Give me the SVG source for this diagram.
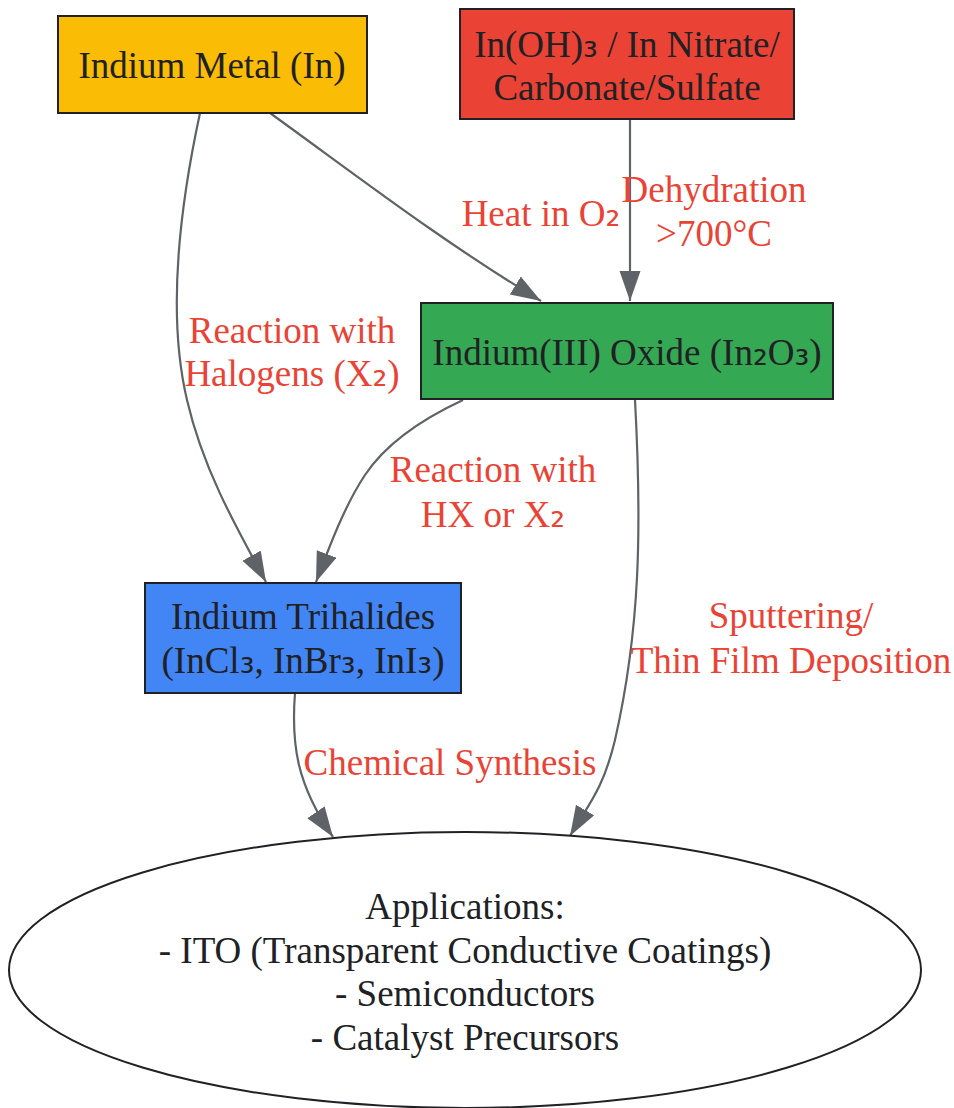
<svg xmlns="http://www.w3.org/2000/svg" width="954" height="1108" viewBox="0 0 954 1108">
<style>
text{font-family:"Liberation Serif","Times New Roman",serif;font-size:37px;text-anchor:middle}
.s{font-family:"DejaVu Sans",sans-serif}
.node rect,.node ellipse{stroke:#202124;stroke-width:2}
.node text{fill:#202124}
.edge path{fill:none;stroke:#5F6368;stroke-width:2.2}
.lbl{fill:#EA4335}
</style>
<defs>
<marker id="arr" markerUnits="userSpaceOnUse" markerWidth="31" markerHeight="22" refX="30" refY="10.5" orient="auto">
<path d="M0,0 L30,10.5 L0,21 Z" fill="#5F6368"/>
</marker>
</defs>
<rect width="954" height="1108" fill="#FFFFFF"/>
<g id="edges" class="edge">
<path d="M270,113 C360,178 440,240 541,301" marker-end="url(#arr)"/>
<path d="M630,119 L630,301" marker-end="url(#arr)"/>
<path d="M200,113 C178,215 168,320 187,400 C202,465 232,520 266,582" marker-end="url(#arr)"/>
<path d="M463,400 C420,420 385,445 365,475 C345,505 330,545 316,582" marker-end="url(#arr)"/>
<path d="M635,400 C642,530 640,630 615,740 C603,790 588,805 570,836" marker-end="url(#arr)"/>
<path d="M295,693 C291,745 297,785 333,837" marker-end="url(#arr)"/>
<text class="lbl" x="541" y="226">Heat in O<tspan class="s">₂</tspan></text>
<text class="lbl" x="714" y="202">Dehydration</text>
<text class="lbl" x="714" y="246">&gt;700°C</text>
<text class="lbl" x="292" y="343">Reaction with</text>
<text class="lbl" x="292" y="386">Halogens (X<tspan class="s">₂</tspan>)</text>
<text class="lbl" x="493" y="482">Reaction with</text>
<text class="lbl" x="493" y="527">HX or X<tspan class="s">₂</tspan></text>
<text class="lbl" x="791" y="628">Sputtering/</text>
<text class="lbl" x="791" y="673">Thin Film Deposition</text>
<text class="lbl" x="450" y="775">Chemical Synthesis</text>
</g>
<g id="metal" class="node">
<rect x="58" y="16" width="309" height="97" fill="#FBBC05"/>
<text x="212" y="78">Indium Metal (In)</text>
</g>
<g id="hydroxide" class="node">
<rect x="460" y="9" width="334" height="110" fill="#EA4335"/>
<text x="627" y="57">In(OH)<tspan class="s">₃</tspan> / In Nitrate/</text>
<text x="627" y="100">Carbonate/Sulfate</text>
</g>
<g id="oxide" class="node">
<rect x="421" y="303" width="412" height="96" fill="#34A853"/>
<text x="627" y="365">Indium(III) Oxide (In<tspan class="s">₂</tspan>O<tspan class="s">₃</tspan>)</text>
</g>
<g id="trihalides" class="node">
<rect x="145" y="583" width="316" height="110" fill="#4285F4"/>
<text x="303" y="629">Indium Trihalides</text>
<text x="303" y="673">(InCl<tspan class="s">₃</tspan>, InBr<tspan class="s">₃</tspan>, InI<tspan class="s">₃</tspan>)</text>
</g>
<g id="applications" class="node">
<ellipse cx="465" cy="970" rx="456" ry="138" fill="#FFFFFF"/>
<text x="465" y="919">Applications:</text>
<text x="465" y="963">- ITO (Transparent Conductive Coatings)</text>
<text x="465" y="1006">- Semiconductors</text>
<text x="465" y="1050">- Catalyst Precursors</text>
</g>
</svg>
